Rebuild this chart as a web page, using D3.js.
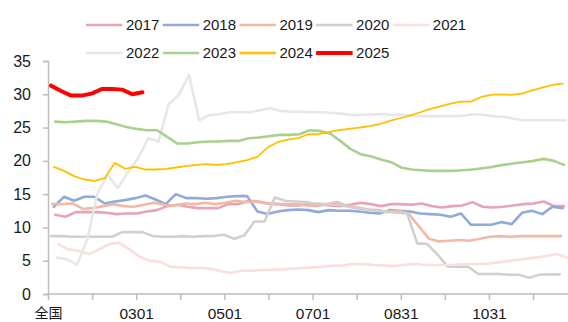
<!DOCTYPE html>
<html>
<head>
<meta charset="utf-8">
<script src="https://cdn.jsdelivr.net/npm/d3@7"></script>
<style>
  html, body { margin: 0; padding: 0; background: #fff; }
  svg { display: block; font-family: "Liberation Sans", Arial, sans-serif; }
</style>
</head>
<body>
<svg id="chart" width="568" height="322"></svg>
<script>
// Weekly readings (one value per Friday), by year
const years = ["2017", "2018", "2019", "2020", "2021", "2022", "2023", "2024", "2025"];
const firstDates = ["2017-01-06", "2018-01-05", "2019-01-04", "2020-01-03", "2021-01-08",
                    "2022-01-07", "2023-01-06", "2024-01-05", "2025-01-03"];

const v2017 = [11.9, 11.6, 12.3, 12.3, 12.3, 12.2, 12.0, 12.1, 12.1, 12.4, 12.6, 13.2, 13.4, 13.1, 12.9, 12.9, 12.9,
               13.5, 13.5, 14.0, 13.9, 13.6, 13.5, 13.3, 13.3, 13.6, 13.5, 13.3, 13.2, 13.4, 13.7, 13.5, 13.2, 13.5,
               13.5, 13.4, 13.6, 13.2, 13.0, 13.2, 13.3, 13.8, 13.1, 13.0, 13.1, 13.3, 13.5, 13.6, 13.9, 13.2, 13.2];
const v2018 = [13.1, 14.6, 14.0, 14.6, 14.6, 13.6, 13.9, 14.1, 14.4, 14.8, 14.2, 13.5, 15.0, 14.4, 14.4, 14.3, 14.4,
               14.6, 14.7, 14.7, 12.4, 12.0, 12.4, 12.6, 12.7, 12.6, 12.3, 12.6, 12.5, 12.5, 12.4, 12.2, 12.1, 12.6,
               12.5, 12.4, 12.1, 12.0, 11.9, 11.6, 12.1, 10.4, 10.4, 10.4, 10.8, 10.5, 12.2, 12.5, 12.0, 13.1, 12.9];
const v2019 = [13.5, 13.5, 13.6, 12.8, 12.9, 13.2, 13.5, 13.2, 13.1, 13.4, 13.7, 13.4, 13.3, 13.6, 13.5, 13.7, 13.5,
               13.7, 14.0, 13.8, 13.9, 13.6, 13.5, 13.5, 13.5, 13.3, 13.2, 13.5, 13.8, 13.2, 13.0, 12.7, 12.6, 12.3,
               12.5, 12.1, 10.2, 8.3, 7.9, 8.0, 8.1, 8.0, 8.3, 8.6, 8.7, 8.6, 8.7, 8.7, 8.7, 8.7, 8.7];
const v2020 = [8.7, 8.7, 8.6, 8.6, 8.6, 8.6, 8.6, 9.3, 9.3, 9.3, 8.7, 8.6, 8.6, 8.7, 8.6, 8.7, 8.7,
               8.9, 8.3, 8.8, 10.9, 10.9, 14.5, 14.0, 13.9, 13.8, 13.6, 13.5, 13.4, 13.2, 12.9, 12.7, 12.5, 12.4,
               12.2, 12.1, 7.6, 7.5, 5.9, 4.1, 4.1, 4.1, 3.0, 3.0, 3.0, 2.9, 2.9, 2.45, 2.9, 2.95, 2.95];
const v2021 = [7.5, 6.7, 6.5, 6.0, 6.7, 7.5, 7.7, 6.7, 5.6, 5.0, 4.85, 4.1, 4.0, 3.9, 3.9, 3.8, 3.4,
               3.2, 3.5, 3.5, 3.6, 3.65, 3.7, 3.8, 3.9, 4.0, 4.1, 4.25, 4.3, 4.5, 4.5, 4.35, 4.3, 4.2,
               4.4, 4.5, 4.35, 4.35, 4.35, 4.4, 4.5, 4.5, 4.5, 4.7, 4.9, 5.1, 5.3, 5.5, 5.7, 6.0, 5.5];
const v2022 = [5.45, 5.2, 4.4, 8.2, 15.1, 17.9, 15.9, 18.3, 20.4, 23.4, 22.9, 28.5, 29.9, 32.9, 26.1, 26.9, 27.0,
               27.3, 27.3, 27.3, 27.6, 27.9, 27.5, 27.4, 27.4, 27.3, 27.3, 27.2, 27.1, 26.9, 26.9, 27.0, 27.0, 26.9,
               26.9, 26.8, 26.7, 26.7, 26.7, 26.7, 26.8, 27.0, 26.9, 26.7, 26.6, 26.3, 26.1, 26.1, 26.1, 26.1, 26.1];
const v2023 = [25.9, 25.8, 25.9, 26.0, 26.0, 25.9, 25.5, 25.1, 24.8, 24.6, 24.6, 23.6, 22.6, 22.6, 22.8, 22.9, 22.9,
               23.0, 23.0, 23.4, 23.5, 23.7, 23.9, 23.9, 24.0, 24.6, 24.5, 24.1, 23.0, 21.8, 21.0, 20.7, 20.2, 19.8,
               19.0, 18.7, 18.6, 18.5, 18.5, 18.5, 18.6, 18.7, 18.9, 19.1, 19.4, 19.6, 19.8, 20.0, 20.3, 20.0, 19.4];
const v2024 = [19.1, 18.5, 17.7, 17.2, 17.0, 17.4, 19.7, 18.8, 19.1, 18.7, 18.7, 18.8, 19.0, 19.2, 19.4, 19.5, 19.4,
               19.5, 19.8, 20.1, 20.6, 22.0, 22.8, 23.2, 23.4, 24.0, 24.0, 24.3, 24.6, 24.8, 25.0, 25.2, 25.5, 26.0,
               26.4, 26.8, 27.3, 27.8, 28.2, 28.6, 28.9, 28.9, 29.6, 29.9, 30.0, 29.9, 30.1, 30.6, 31.0, 31.4, 31.6];
const v2025 = [31.3, 30.5, 29.8, 29.8, 30.1, 30.8, 30.8, 30.7, 30.0, 30.3];

const seriesValues = [v2017, v2018, v2019, v2020, v2021, v2022, v2023, v2024, v2025];
const colors = ["#E9A3B4", "#8FAADC", "#F4B9A6", "#D0D0D0", "#FCDEDC", "#E7E7E7", "#A9D18E", "#FFC000", "#FF0000"];
const widths = [2.6, 2.6, 2.6, 2.6, 2.6, 2.6, 2.6, 1.8, 4];

const yTicks = [0, 5, 10, 15, 20, 25, 30, 35];
const xTickLabels = ["全国", "", "0301", "", "0501", "", "0701", "", "0831", "", "1031", ""];

// ---- layout ----
const svg = d3.select("#chart");
const plotLeft = 48, plotRight = 568, plotTop = 61, plotBottom = 294;

// x is day of the year (0 = Jan 1)
const x = d3.scaleLinear().domain([0, 357.7]).range([plotLeft, plotRight]);
const y = d3.scaleLinear().domain([0, 35]).range([plotBottom, plotTop]);

const dayOfYear = s => {
  const d = new Date(s + "T00:00:00Z");
  const jan1 = Date.UTC(d.getUTCFullYear(), 0, 1);
  return (d - jan1) / 86400000;
};

const tickDays = xTickLabels.map((_, j) => j * 364 / 12);

// axes
const axisColor = "#BDBDBD";
const yAxis = svg.append("g").attr("transform", `translate(${plotLeft},0)`)
  .call(d3.axisLeft(y).tickValues(yTicks).tickSize(5).tickPadding(12).tickFormat(d3.format("d")));
const xAxis = svg.append("g").attr("transform", `translate(0,${plotBottom})`)
  .call(d3.axisBottom(x).tickValues(tickDays).tickSize(6).tickPadding(8)
    .tickFormat((d, i) => xTickLabels[i]));

[yAxis, xAxis].forEach(g => {
  g.select(".domain").attr("stroke", axisColor).attr("stroke-width", 1.5);
  g.selectAll(".tick line").attr("stroke", axisColor).attr("stroke-width", 1.5);
  g.selectAll(".tick text").attr("fill", "#1a1a1a").style("font-size", "15.5px")
    .style("font-family", '"Liberation Sans", Arial, sans-serif');
});
yAxis.selectAll(".tick text").style("font-size", "16px");
xAxis.select(".domain").attr("d", `M${plotLeft},0H${plotRight}`);
xAxis.selectAll(".tick text").filter((d, i) => i === 0)
  .style("font-family", '"Noto Sans CJK SC", sans-serif').style("font-size", "14px");

// lines
const line = d3.line().x(d => x(d.day)).y(d => y(d.v)).curve(d3.curveLinear);
const plot = svg.append("g");
years.forEach((yr, k) => {
  const d0 = dayOfYear(firstDates[k]);
  const pts = seriesValues[k].map((v, i) => ({ day: d0 + 7 * i, v }));
  plot.append("path").datum(pts)
    .attr("fill", "none")
    .attr("stroke", colors[k])
    .attr("stroke-width", widths[k])
    .attr("stroke-linejoin", "round")
    .attr("stroke-linecap", "round")
    .attr("d", line);
});

// legend
const legend = svg.append("g").style("font-size", "15px");
years.forEach((yr, k) => {
  const row = k < 5 ? 0 : 1;
  const col = k < 5 ? k : k - 5;
  const gx = 86 + col * 76.7;
  const gy = row === 0 ? 25 : 53;
  legend.append("line")
    .attr("x1", gx).attr("x2", gx + 36.5).attr("y1", gy).attr("y2", gy)
    .attr("stroke", colors[k]).attr("stroke-width", k === 8 ? 4 : 2.6);
  legend.append("text")
    .attr("x", gx + 40).attr("y", gy).attr("dy", "0.36em")
    .attr("fill", "#1a1a1a").text(yr);
});
</script>
</body>
</html>
